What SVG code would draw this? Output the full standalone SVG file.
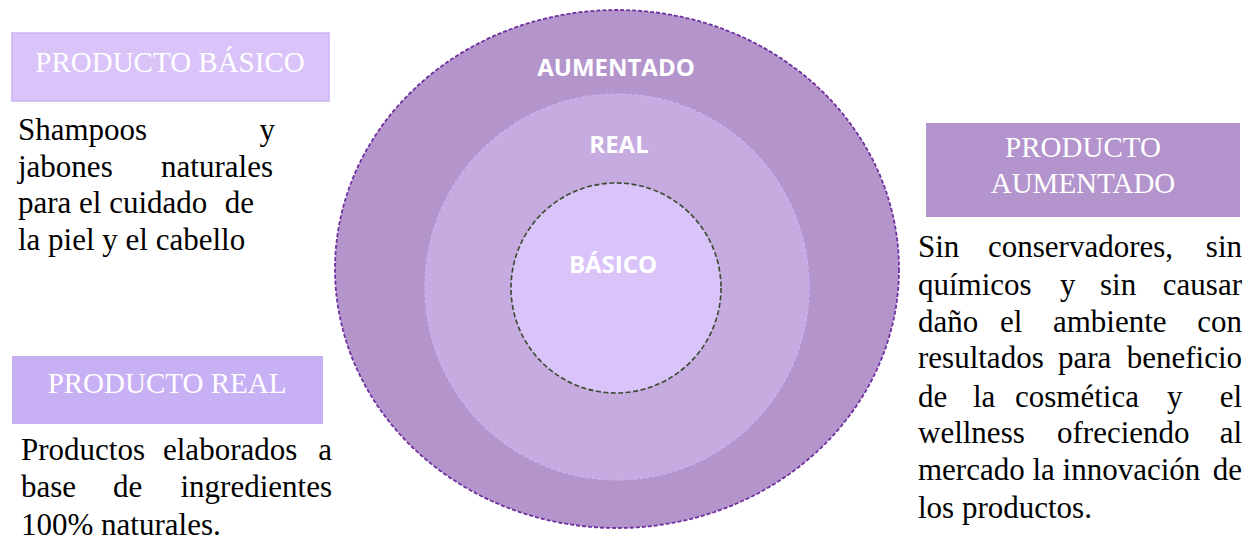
<svg xmlns="http://www.w3.org/2000/svg" width="1254" height="544" viewBox="0 0 1254 544">
<style>
.hd{font-family:"Liberation Serif","Times New Roman",serif;font-size:29px;fill:#ffffff;text-anchor:middle}
.bd{font-family:"Liberation Serif","Times New Roman",serif;font-size:31px;fill:#000000}
.ring{font-family:"Open Sans","Liberation Sans",sans-serif;font-weight:bold;font-size:24px;fill:#ffffff;text-anchor:middle}
.e{text-anchor:end}
</style>
<rect width="1254" height="544" fill="#ffffff"/>
<g id="circles">
<g id="aumentado">
<ellipse cx="617" cy="269" rx="282" ry="259" fill="#B395CB" stroke="#7030A0" stroke-width="1.8" stroke-dasharray="4,2"/>
<text class="ring" x="616" y="76">AUMENTADO</text>
</g>
<g id="real">
<ellipse cx="617" cy="287" rx="192" ry="193" fill="#C6ABE0" stroke="#C8B4F8" stroke-width="1.2" stroke-dasharray="4,2"/>
<text class="ring" x="619" y="153">REAL</text>
</g>
<g id="basico">
<ellipse cx="616" cy="288" rx="105" ry="105" fill="#D9C3F9" stroke="#3A4A2E" stroke-width="1.6" stroke-dasharray="5,2.5"/>
<text class="ring" x="613" y="273">BÁSICO</text>
</g>
</g>
<g id="connectors"></g>
<g id="producto-basico">
<rect x="12" y="33" width="317" height="68" fill="#D9C3F9" stroke="#C9B2F4" stroke-width="1.5"/>
<text class="hd" x="170" y="72">PRODUCTO BÁSICO</text>
<text class="bd" y="140"><tspan x="18">Shampoos</tspan><tspan x="275" class="e">y</tspan></text>
<text class="bd" y="177"><tspan x="18">jabones</tspan><tspan x="273" class="e">naturales</tspan></text>
<text class="bd" y="213"><tspan x="18">para el cuidado</tspan><tspan x="254" class="e">de</tspan></text>
<text class="bd" x="18" y="250">la piel y el cabello</text>
</g>
<g id="producto-real">
<rect x="12" y="356" width="311" height="68" fill="#C8B0F5"/>
<text class="hd" x="167" y="393">PRODUCTO REAL</text>
<text class="bd" y="460"><tspan x="21">Productos</tspan><tspan x="163">elaborados</tspan><tspan x="332" class="e">a</tspan></text>
<text class="bd" y="497"><tspan x="21">base</tspan><tspan x="113">de</tspan><tspan x="332" class="e">ingredientes</tspan></text>
<text class="bd" x="21" y="535">100% naturales.</text>
</g>
<g id="producto-aumentado">
<rect x="926" y="123" width="314" height="94" fill="#B394CC"/>
<text class="hd" x="1083" y="157">PRODUCTO</text>
<text class="hd" x="1083" y="193">AUMENTADO</text>
<text class="bd" y="257"><tspan x="918">Sin</tspan><tspan x="988">conservadores,</tspan><tspan x="1242" class="e">sin</tspan></text>
<text class="bd" y="295"><tspan x="918">químicos</tspan><tspan x="1060">y</tspan><tspan x="1100">sin</tspan><tspan x="1242" class="e">causar</tspan></text>
<text class="bd" y="332"><tspan x="918">daño</tspan><tspan x="1000">el</tspan><tspan x="1053">ambiente</tspan><tspan x="1242" class="e">con</tspan></text>
<text class="bd" y="368"><tspan x="918">resultados</tspan><tspan x="1058">para</tspan><tspan x="1242" class="e">beneficio</tspan></text>
<text class="bd" y="407"><tspan x="918">de</tspan><tspan x="973">la</tspan><tspan x="1015">cosmética</tspan><tspan x="1167">y</tspan><tspan x="1242" class="e">el</tspan></text>
<text class="bd" y="443"><tspan x="918">wellness</tspan><tspan x="1057">ofreciendo</tspan><tspan x="1242" class="e">al</tspan></text>
<text class="bd" y="480"><tspan x="918">mercado la innovación</tspan><tspan x="1242" class="e">de</tspan></text>
<text class="bd" x="918" y="518">los productos.</text>
</g>
</svg>
